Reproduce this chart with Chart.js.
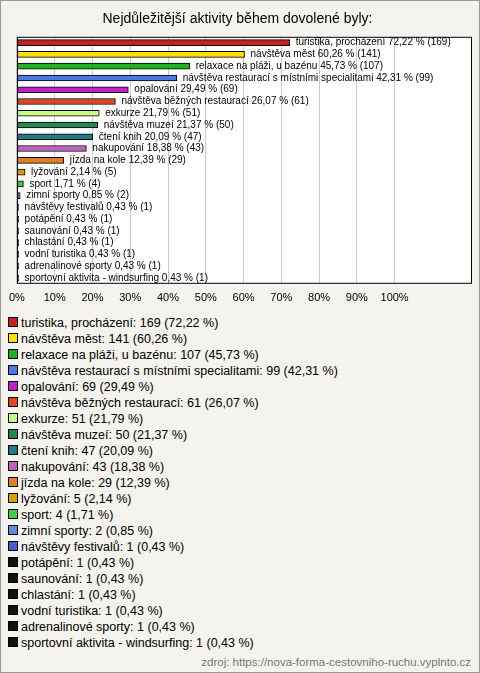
<!DOCTYPE html>
<html><head><meta charset="utf-8">
<script src="https://cdn.jsdelivr.net/npm/chart.js@4"></script>
<style>
body{margin:0;background:#fff;font-family:"Liberation Sans",Arial,sans-serif;}
#wrap{position:relative;width:478px;height:671px;border:1px solid #999;background:#f4f3ee;}
#c{position:absolute;left:0;top:0;}
#legend{position:absolute;left:7px;top:314px;font-size:12.5px;color:#000;}
.it{height:16px;line-height:16px;white-space:nowrap;}
.sq{display:inline-block;width:8px;height:8px;border:1px solid #000;margin-right:3px;vertical-align:-0px;}
#src{position:absolute;right:8px;top:655px;font-size:11.5px;color:#777;}
</style></head><body>
<div id="wrap"><canvas id="c" width="478" height="312"></canvas><div id="legend"></div>
<div id="src">zdroj: https://nova-forma-cestovniho-ruchu.vyplnto.cz</div></div>
<script>
const categories=["turistika, procházení","návštěva měst","relaxace na pláži, u bazénu","návštěva restaurací s místními specialitami","opalování","návštěva běžných restaurací","exkurze","návštěva muzeí","čtení knih","nakupování","jízda na kole","lyžování","sport","zimní sporty","návštěvy festivalů","potápění","saunování","chlastání","vodní turistika","adrenalinové sporty","sportovní aktivita - windsurfing"];
const counts=[169,141,107,99,69,61,51,50,47,43,29,5,4,2,1,1,1,1,1,1,1];
const percents=[72.22,60.26,45.73,42.31,29.49,26.07,21.79,21.37,20.09,18.38,12.39,2.14,1.71,0.85,0.43,0.43,0.43,0.43,0.43,0.43,0.43];
const colors=["#c8201c","#f8e000","#20b020","#4a78e8","#c020c8","#e04418","#c8f888","#208858","#207888","#c060c0","#e08020","#d8a000","#40d040","#6888e0","#4060d0","#111","#111","#111","#111","#111","#111"];
const fmt=v=>v.toFixed(2).replace('.',',');
const lg=document.getElementById('legend');
categories.forEach((c,i)=>{lg.innerHTML+=`<div class="it"><span class="sq" style="background:${colors[i]}"></span>${c}: ${counts[i]} (${fmt(percents[i])} %)</div>`;});
const deco={id:'deco',
beforeDraw(ch){const a=ch.chartArea,x=ch.ctx;x.save();x.fillStyle='#fff';x.fillRect(a.left,a.top,a.width,a.height);x.restore();},
afterDatasetsDraw(ch){const x=ch.ctx,a=ch.chartArea,m=ch.getDatasetMeta(0);x.save();
x.font='10px "Liberation Sans",Arial';x.fillStyle='#000';x.textBaseline='middle';
m.data.forEach((b,i)=>{x.fillText(`${categories[i]} ${fmt(percents[i])} % (${counts[i]})`,b.x+6,b.y);});
x.strokeStyle='#000';x.lineWidth=1;x.strokeRect(a.left+0.5,a.top+0.5,a.width-1,a.height-1);x.restore();}};
new Chart(document.getElementById('c'),{type:'bar',
data:{labels:categories,datasets:[{data:percents,backgroundColor:colors,borderColor:'#000',borderWidth:1,barThickness:6,borderSkipped:false}]},
options:{indexAxis:'y',responsive:false,animation:false,
layout:{padding:{left:2,right:7,top:0,bottom:0}},
plugins:{legend:{display:false},tooltip:{enabled:false},
title:{display:true,text:'Nejdůležitější aktivity během dovolené byly:',color:'#000',font:{size:14,family:'"Liberation Sans",Arial',weight:'normal'},padding:{top:10,bottom:9}}},
scales:{y:{display:false},
x:{min:0,max:120.5,afterBuildTicks(s){s.ticks=[0,10,20,30,40,50,60,70,80,90,100].map(v=>({value:v}));},
grid:{color:'#ccc',drawTicks:false},border:{display:false},
ticks:{color:'#000',padding:8,font:{size:11,family:'"Liberation Sans",Arial'},callback:v=>v+'%'}}}},
plugins:[deco]});
</script></body></html>
